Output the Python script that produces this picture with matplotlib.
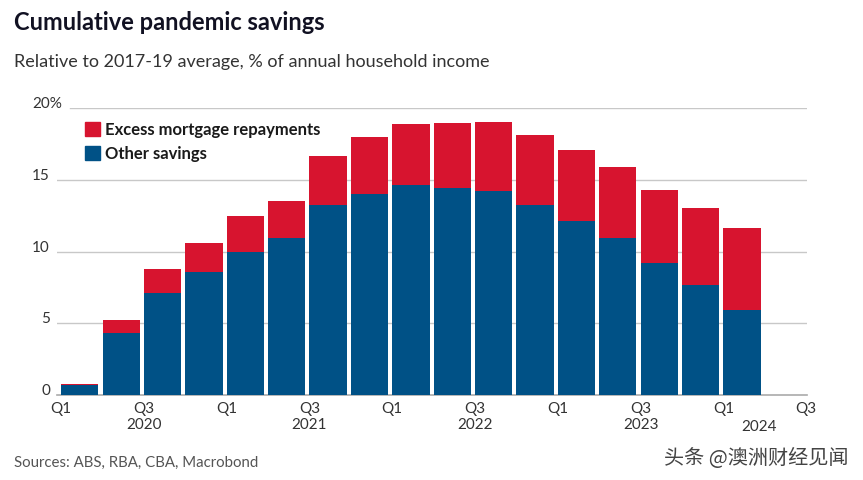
import matplotlib
matplotlib.use('Agg')
import matplotlib.pyplot as plt
from matplotlib.patches import Rectangle

plt.rcParams['font.family'] = ['Lato', 'DejaVu Sans']

# quarterly data, Q1 2020 .. Q1 2024
quarters = ['2020Q1', '2020Q2', '2020Q3', '2020Q4',
            '2021Q1', '2021Q2', '2021Q3', '2021Q4',
            '2022Q1', '2022Q2', '2022Q3', '2022Q4',
            '2023Q1', '2023Q2', '2023Q3', '2023Q4',
            '2024Q1']
other_savings = [0.7, 4.3, 7.1, 8.55, 10.0, 10.95, 13.25, 14.0, 14.65,
                 14.4, 14.25, 13.25, 12.15, 10.95, 9.2, 7.65, 5.9]
total_savings = [0.8, 5.2, 8.75, 10.6, 12.45, 13.55, 16.65, 17.95, 18.9,
                 18.95, 19.05, 18.15, 17.1, 15.9, 14.3, 13.05, 11.65]
excess_mortgage = [t - o for t, o in zip(total_savings, other_savings)]

tick_pos = [0, 2, 4, 6, 8, 10, 12, 14, 16, 18]
tick_labels = ['Q1', 'Q3\n2020', 'Q1', 'Q3\n2021', 'Q1', 'Q3\n2022',
               'Q1', 'Q3\n2023', 'Q1', 'Q3']
year_2024 = '2024'

yticks = [0, 5, 10, 15, 20]

RED = '#d7142f'
BLUE = '#005186'
GRID = '#c8c8c8'
TEXT = '#333333'

fig = plt.figure(figsize=(8.63, 4.81), dpi=100)
ax = fig.add_axes([57 / 863, 1 - 396 / 481, 750 / 863, 287 / 481])

x = list(range(len(quarters)))
ax.bar(x, other_savings, width=0.9, align='edge', color=BLUE, zorder=3)
ax.bar(x, excess_mortgage, bottom=other_savings, width=0.9, align='edge',
       color=RED, zorder=3)

ax.set_xlim(-0.1, 18.02)
ax.set_ylim(0, 20)

for s in ['top', 'right', 'left']:
    ax.spines[s].set_visible(False)
ax.spines['bottom'].set_color('#aaaaaa')
ax.spines['bottom'].set_linewidth(1.2)

# gridlines
for v in yticks[1:]:
    start = (70 - 57) / 750 if v == 20 else 0
    ax.axhline(v, xmin=start, xmax=1, color=GRID, lw=1, zorder=1)

ax.set_yticks([])
ax.set_xticks(tick_pos)
ax.set_xticklabels(tick_labels, fontsize=11, color=TEXT, linespacing=1.25)
ax.tick_params(axis='x', length=0, pad=4)
ax.text(16.85, (396 - 427) / 287, year_2024, ha='center', va='center',
        fontsize=11, color=TEXT, transform=ax.get_xaxis_transform())

# y labels
for v in yticks:
    yp = 1 - (396 - v * 14.33 - 5) / 481
    if v == 20:
        fig.text(32 / 863, yp, '20%', ha='left', va='center', fontsize=11,
                 color=TEXT)
    else:
        fig.text(50 / 863, yp, str(v), ha='right', va='center', fontsize=11,
                 color=TEXT)

# legend
for i, (lab, col) in enumerate([('Excess mortgage repayments', RED),
                                 ('Other savings', BLUE)]):
    yc = 130 + i * 24
    fig.patches.append(Rectangle((85 / 863, 1 - (yc + 7) / 481), 15 / 863,
                                 14 / 481, transform=fig.transFigure,
                                 color=col, figure=fig))
    fig.text(105 / 863, 1 - yc / 481, lab, ha='left', va='center',
             fontsize=12, fontweight='bold', color='#1a1a1a')

fig.text(14 / 863, 1 - 23 / 481, 'Cumulative pandemic savings',
         ha='left', va='center', fontsize=17, fontweight='bold',
         color='#111122')
fig.text(14 / 863, 1 - 62 / 481,
         'Relative to 2017-19 average, % of annual household income',
         ha='left', va='center', fontsize=13, color=TEXT)
fig.text(14 / 863, 1 - 463 / 481, 'Sources: ABS, RBA, CBA, Macrobond',
         ha='left', va='center', fontsize=10.8, color='#555555')
fig.text(848 / 863, 1 - 458 / 481, '头条 @澳洲财经见闻', ha='right',
         va='center', fontsize=14.5, color='#444444',
         family=['Noto Sans CJK SC', 'DejaVu Sans'])

fig.savefig('out.png', dpi=100, facecolor='white')
